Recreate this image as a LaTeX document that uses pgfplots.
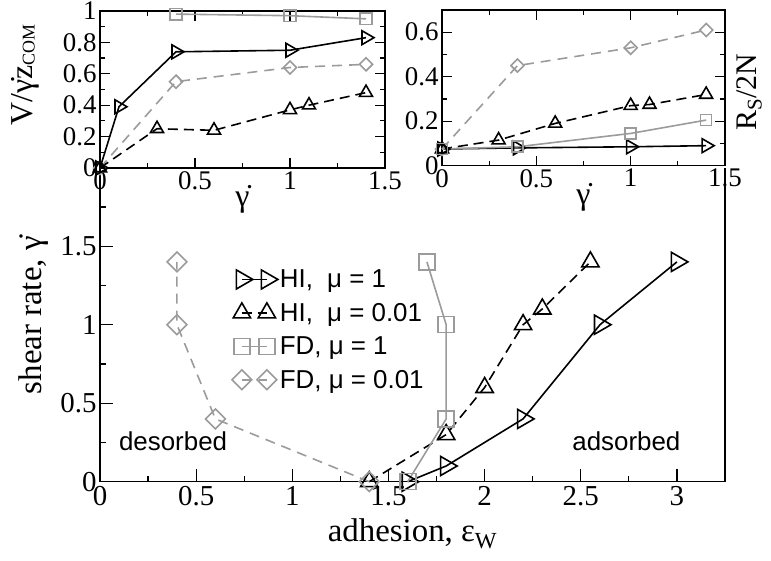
\documentclass[border=0pt]{standalone}
\usepackage{fontspec}
\setmainfont{Liberation Serif}
\newfontfamily\sansfont{Liberation Sans}
\usepackage{pgfplots}
\pgfplotsset{compat=1.18}
\definecolor{lgray}{RGB}{155,155,155}

\pgfplotsset{
  hione/.style={black, line width=1.6bp, mark=triangle, mark size=#1,
    mark options={solid, rotate=-90, fill=none}},
  hitwo/.style={black, line width=1.6bp, dash pattern=on 10bp off 6bp,
    mark=triangle, mark size=#1, mark options={solid, fill=none}},
  fdone/.style={lgray, line width=1.6bp, mark=square, mark size=#1,
    mark options={solid, fill=none}},
  fdtwo/.style={lgray, line width=1.6bp, dash pattern=on 10bp off 7bp,
    mark=square, mark size=#1, mark options={solid, rotate=45, fill=none}},
  gracebox/.style={
    scale only axis, clip=false,
    tick align=inside, axis line style={line width=1.2bp},
    every tick/.style={black, line width=1.2bp},
    /pgf/number format/assume math mode=true,
  },
}

\begin{document}
\begin{tikzpicture}[x=1bp,y=1bp]
\path[use as bounding box] (0,0) rectangle (771,561);

% ---------------- main panel: adsorption boundary ----------------
\begin{axis}[gracebox,
  at={(100bp,79.3bp)}, anchor=south west,
  width=625bp, height=314bp,
  xmin=0, xmax=3.25, ymin=0, ymax=2,
  axis x line*=bottom, axis y line*=box,
  ytick pos=left,
  xtick={0,0.5,1,1.5,2,2.5,3},
  minor xtick={0.25,0.75,1.25,1.75,2.25,2.75},
  ytick={0,0.5,1,1.5},
  minor ytick={0.25,0.75,1.25,1.75},
  major tick length=13bp, minor tick length=6bp,
  ticklabel style={font=\fontsize{29}{29}\selectfont},
  xticklabel style={yshift=-1bp},
  xlabel={adhesion, ε\textsubscript{W}},
  ylabel={shear rate, \.{γ}},
  every axis x label/.style={at={(axis description cs:0.5,0)}, anchor=base,
    yshift=-60bp, font=\fontsize{33}{33}\selectfont},
  every axis y label/.style={at={(axis description cs:-0.107,0.53)}, rotate=90,
    anchor=center, font=\fontsize{33}{33}\selectfont},
  legend style={at={(axis cs:0.68,1.37)}, anchor=north west, draw=none, fill=none,
    font=\sansfont\fontsize{26}{28}\selectfont, row sep=10bp, inner sep=1bp},
  legend cell align=left,
  legend image code/.code={\draw plot coordinates {(0bp,0bp) (25bp,0bp)};},
]
\addplot[hione=11bp] coordinates {(1.6,0) (1.8,0.1) (2.2,0.4) (2.6,1.0) (3.0,1.4)};
\addlegendentry{HI,\hspace{0.55em}μ = 1}
\addplot[hitwo=10bp] coordinates {(1.4,0) (1.8,0.3) (2.0,0.6) (2.2,1.0) (2.3,1.1) (2.55,1.4)};
\addlegendentry{HI,\hspace{0.55em}μ = 0.01}
\addplot[fdone=8bp] coordinates {(1.6,0) (1.8,0.4) (1.8,1.0) (1.7,1.4)};
\addlegendentry{FD, μ = 1}
\addplot[fdtwo=7bp] coordinates {(1.4,0) (0.6,0.4) (0.4,1.0) (0.4,1.4)};
\addlegendentry{FD, μ = 0.01}
\node[font=\sansfont\fontsize{26}{26}\selectfont] at (axis cs:0.38,0.26) {desorbed};
\node[font=\sansfont\fontsize{26}{26}\selectfont] at (axis cs:2.737,0.26) {adsorbed};
\end{axis}

% ---------------- inset: slip velocity ----------------
\begin{axis}[gracebox,
  at={(100bp,393bp)}, anchor=south west,
  width=285bp, height=157bp,
  xmin=0, xmax=1.5, ymin=0, ymax=1,
  xtick={0,0.5,1,1.5}, minor xtick={0.25,0.75,1.25},
  ytick={0,0.2,0.4,0.6,0.8,1}, minor ytick={0.1,0.3,0.5,0.7,0.9},
  major tick length=10bp, minor tick length=5bp,
  ticklabel style={font=\fontsize{27}{27}\selectfont},
  xlabel={\.{γ}}, ylabel={V/\.{γ}z{\fontsize{18}{18}\selectfont\raisebox{-0.3ex}{COM}}},
  every axis x label/.style={at={(axis description cs:0.5,0)}, anchor=center,
    yshift=-31bp, font=\fontsize{32}{32}\selectfont},
  every axis y label/.style={at={(axis description cs:-0.263,0.59)}, rotate=90,
    anchor=center, font=\fontsize{32}{32}\selectfont},
]
\addplot[fdone=5.8bp] coordinates {(0.4,0.98) (1.0,0.97) (1.4,0.95)};
\addplot[fdtwo=4.6bp] coordinates {(0,0) (0.4,0.55) (1.0,0.64) (1.4,0.66)};
\addplot[hione=8bp] coordinates {(0,0) (0.1,0.39) (0.4,0.74) (1.0,0.75) (1.4,0.83)};
\addplot[hitwo=7.5bp] coordinates {(0,0) (0.3,0.25) (0.6,0.24) (1.0,0.37) (1.1,0.40) (1.4,0.48)};
\end{axis}

% ---------------- inset: surface coverage ----------------
\begin{axis}[gracebox,
  at={(442bp,395.3bp)}, anchor=south west,
  width=283bp, height=155.7bp,
  xmin=0, xmax=1.5, ymin=0, ymax=0.7,
  xtick={0,0.5,1,1.5}, minor xtick={0.25,0.75,1.25},
  ytick={0,0.2,0.4,0.6}, minor ytick={0.1,0.3,0.5},
  major tick length=10bp, minor tick length=5bp,
  ticklabel style={font=\fontsize{27}{27}\selectfont},
  xlabel={\.{γ}}, ylabel={R\textsubscript{S}/2N},
  every axis x label/.style={at={(axis description cs:0.5,0)}, anchor=center,
    yshift=-32bp, font=\fontsize{32}{32}\selectfont},
  every axis y label/.style={at={(axis description cs:1.085,0.473)}, rotate=90,
    anchor=center, font=\fontsize{30}{30}\selectfont},
]
\addplot[fdtwo=4.6bp] coordinates {(0,0.075) (0.4,0.45) (1.0,0.53) (1.4,0.61)};
\addplot[hitwo=7.5bp] coordinates {(0,0.075) (0.3,0.115) (0.6,0.19) (1.0,0.27) (1.1,0.275) (1.4,0.32)};
\addplot[hione=8bp] coordinates {(0,0.075) (0.4,0.08) (1.0,0.085) (1.4,0.09)};
\addplot[fdone=5.5bp] coordinates {(0,0.075) (0.4,0.085) (1.0,0.145) (1.4,0.205)};
\end{axis}
\end{tikzpicture}
\end{document}
